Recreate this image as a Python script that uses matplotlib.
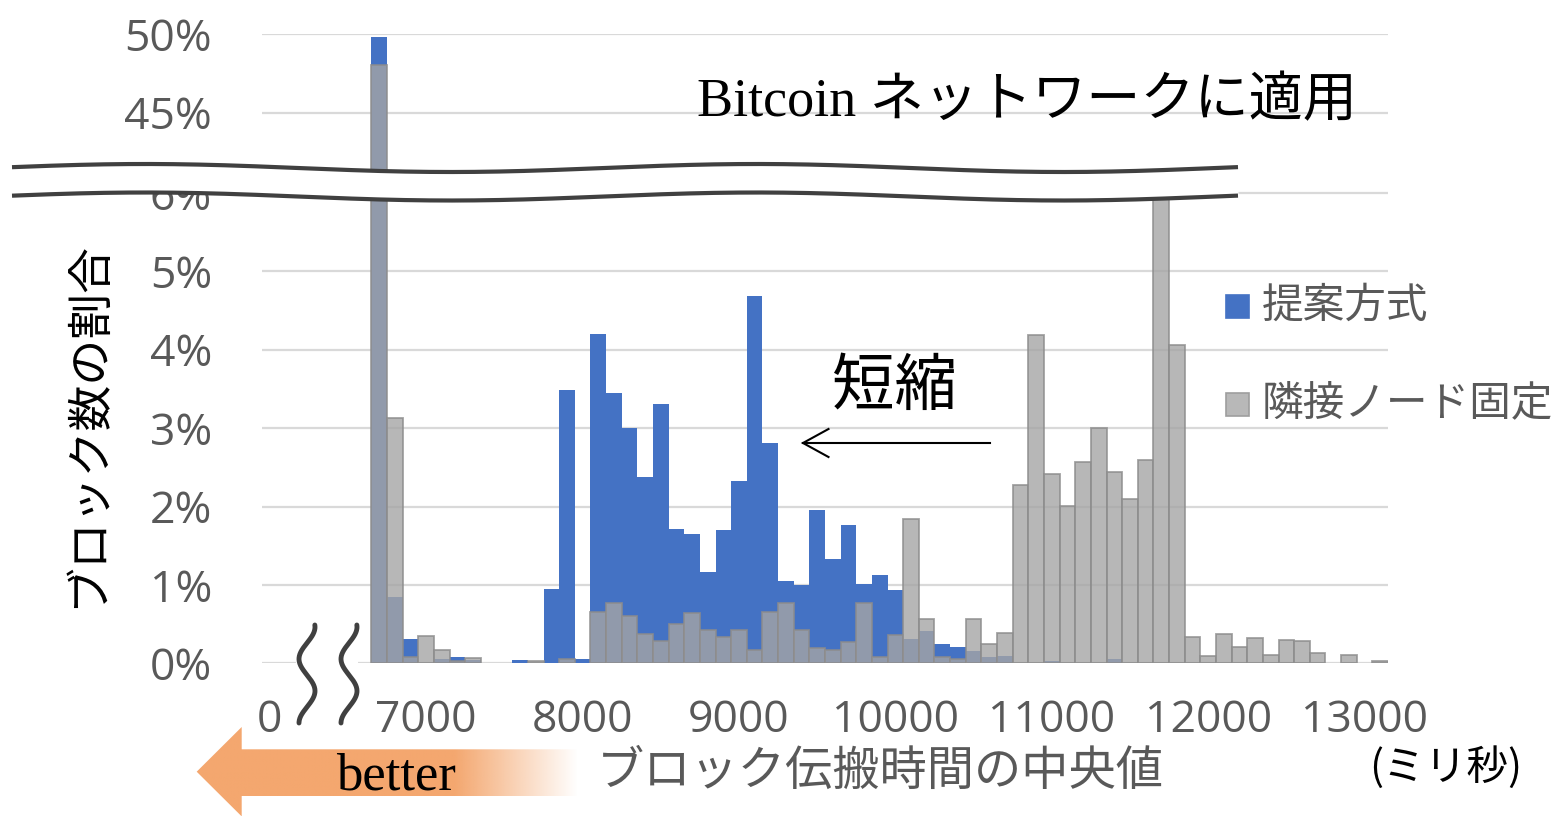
import numpy as np
import matplotlib
matplotlib.use("Agg")
import matplotlib.pyplot as plt
from matplotlib.patches import Polygon, Rectangle
from matplotlib.colors import to_rgb

# ---- data: share of blocks (%) per 100 ms bin of median propagation time ----
bin_centers_ms = list(range(6700, 13200, 100))
proposed = [
    49.83, 0.85, 0.31, 0.00, 0.06, 0.08, 0.04, 0.00, 0.00, 0.04,   # 6700-7600
    0.00, 0.95, 3.49, 0.06, 4.20, 3.45, 3.00, 2.38, 3.31, 1.71,    # 7700-8600
    1.65, 1.17, 1.70, 2.32, 4.68, 2.81, 1.05, 1.00, 1.96, 1.33,    # 8700-9600
    1.77, 1.01, 1.13, 0.93, 0.31, 0.41, 0.24, 0.21, 0.16, 0.08,    # 9700-10600
    0.09, 0.01, 0.01, 0.03, 0.01, 0.01, 0.01, 0.05, 0.01, 0.00,    # 10700-11600
    0.00, 0.00, 0.00, 0.00, 0.00, 0.00, 0.00, 0.00, 0.00, 0.00,    # 11700-12600
    0.00, 0.00, 0.00, 0.00, 0.00,                                  # 12700-13100
]
fixed_neighbors = [
    48.04, 3.13, 0.085, 0.35, 0.17, 0.03, 0.07, 0.00, 0.00, 0.00,  # 6700-7600
    0.025, 0.00, 0.05, 0.00, 0.65, 0.77, 0.60, 0.37, 0.29, 0.50,   # 7700-8600
    0.64, 0.42, 0.33, 0.43, 0.17, 0.66, 0.77, 0.42, 0.19, 0.17,    # 8700-9600
    0.27, 0.77, 0.085, 0.36, 1.84, 0.56, 0.085, 0.06, 0.56, 0.25,  # 9700-10600
    0.39, 2.28, 4.19, 2.42, 2.01, 2.57, 3.00, 2.44, 2.09, 2.59,    # 10700-11600
    7.00, 4.06, 0.33, 0.09, 0.38, 0.21, 0.32, 0.11, 0.30, 0.28,    # 11700-12600
    0.13, 0.00, 0.11, 0.00, 0.03,                                  # 12700-13100
]
series_names = ["提案方式", "隣接ノード固定"]
x_tick_values = [6000, 7000, 8000, 9000, 10000, 11000, 12000, 13000]
x_tick_labels = ["0", "7000", "8000", "9000", "10000", "11000", "12000", "13000"]
low_ticks = [0, 1, 2, 3, 4, 5, 6]
high_ticks = [45, 50]

BLUE = "#4472C4"
GREY = (0.647, 0.647, 0.647, 0.80)
GREY_EDGE = (0.55, 0.55, 0.55, 0.8)
TXT = "#595959"
NUM_FONT = ["Open Sans", "DejaVu Sans"]
JP_FONT = ["Noto Sans CJK JP", "DejaVu Sans"]
MIX_SERIF = ["Liberation Serif", "Noto Sans CJK JP", "DejaVu Sans"]

plt.rcParams["font.family"] = JP_FONT

W, H = 1558, 816
fig = plt.figure(figsize=(W / 100, H / 100), dpi=100)


def px_axes(x0, y0, x1, y1):
    """Axes placed with pixel edges (y measured from top)."""
    return fig.add_axes([x0 / W, (H - y1) / H, (x1 - x0) / W, (y1 - y0) / H])


# pixel layout of the broken y axis
LEFT, RIGHT = 262, 1388
BASE_Y, SPLIT_Y, TOP_Y = 663.3, 182.0, 34.3
PX_PER_PCT_LOW = 78.4
PX_PER_PCT_HIGH = 15.68

ax_low = px_axes(LEFT, SPLIT_Y, RIGHT, BASE_Y)
ax_high = px_axes(LEFT, TOP_Y, RIGHT, SPLIT_Y)

x = np.array(bin_centers_ms)
blue = np.array(proposed)
grey = np.array(fixed_neighbors)

for ax in (ax_low, ax_high):
    mb = blue > 0
    ax.bar(x[mb], blue[mb], width=100, color=BLUE, linewidth=0, zorder=2)
    mg = grey > 0
    ax.bar(x[mg], grey[mg], width=100, color=GREY, edgecolor=GREY_EDGE,
           linewidth=1.3, zorder=3)
    ax.set_xlim(5950, 13150)
    ax.set_axisbelow(True)
    ax.grid(axis="y", color="#D9D9D9", linewidth=1.6)
    ax.grid(axis="x", visible=False)
    for s in ax.spines.values():
        s.set_visible(False)
    ax.tick_params(length=0)
    ax.patch.set_alpha(0)

ax_low.set_ylim(0, (BASE_Y - SPLIT_Y) / PX_PER_PCT_LOW)
ax_high.set_ylim(50 - (SPLIT_Y - TOP_Y) / PX_PER_PCT_HIGH, 50)

ax_low.set_yticks(low_ticks)
ax_low.set_yticklabels([f"{t}%" for t in low_ticks])
ax_high.set_yticks(high_ticks)
ax_high.set_yticklabels([f"{t}%" for t in high_ticks])
for ax in (ax_low, ax_high):
    ax.tick_params(axis="y", pad=36)
    for lab in ax.get_yticklabels():
        lab.set_fontfamily(NUM_FONT)
        lab.set_fontsize(32)
        lab.set_color(TXT)

ax_high.set_xticks([])
ax_low.set_xticks(x_tick_values)
ax_low.set_xticklabels(x_tick_labels)
ax_low.tick_params(axis="x", pad=25)
for lab in ax_low.get_xticklabels():
    lab.set_fontfamily(NUM_FONT)
    lab.set_fontsize(32)
    lab.set_color(TXT)

# ---- overlay in pixel coordinates for the decorations ----
ov = fig.add_axes([0, 0, 1, 1], zorder=10)
ov.patch.set_alpha(0)

# wavy break band across the y axis
xs = np.linspace(12, 1238, 600)
y_top = 168 - 4.0 * np.cos(2 * np.pi * (xs - 145) / 612)
y_bot = y_top + 28.5
ov.fill_between(xs, y_top, y_bot, color="white", linewidth=0, zorder=1)
ov.plot(xs, y_top, color="#404040", linewidth=3.0, solid_capstyle="butt", zorder=2)
ov.plot(xs, y_bot, color="#404040", linewidth=3.0, solid_capstyle="butt", zorder=2)

# break marks on the x axis
ov.add_patch(Rectangle((296, 622), 62, 104, facecolor="white", edgecolor="none", zorder=1))
ys = np.linspace(625, 723, 200)
for xc in (307, 349):
    ov.plot(xc + 8 * np.cos(np.pi * (ys - 627) / 32), ys, color="#404040",
            linewidth=3.5, solid_capstyle="round", zorder=2)

# "better" arrow with a fading tail
arrow_pts = [(196.7, 771.7), (241.7, 727), (241.7, 749.3), (585, 749.3),
             (585, 796), (241.7, 796), (241.7, 816.4)]
arrow_shape = Polygon(arrow_pts, closed=True, facecolor="none", edgecolor="none")
ov.add_patch(arrow_shape)
gx = np.linspace(196, 585, 500)
grad = np.zeros((1, gx.size, 4))
grad[0, :, :3] = to_rgb("#F4A76F")
grad[0, :, 3] = np.clip((578 - gx) / (578 - 455), 0, 1)
im = ov.imshow(grad, extent=[196, 585, 817, 726], aspect="auto",
               interpolation="bilinear", zorder=3)
im.set_clip_path(arrow_shape)
ov.text(396, 789, "better", family=MIX_SERIF, fontsize=38, color="black",
        ha="center", va="baseline", zorder=4)

# "shortened" annotation with an open-headed arrow
ov.text(895, 387, "短縮", family=JP_FONT, fontsize=45, color="black",
        ha="center", va="center", zorder=4)
ov.plot([990, 803], [443, 443], color="black", linewidth=1.5, zorder=4)
ov.plot([828.5, 803, 828.5], [429, 443, 457], color="black", linewidth=1.5,
        solid_joinstyle="miter", zorder=4)

# title text
ov.text(697, 103, "Bitcoin ネットワークに適用", family=MIX_SERIF, fontsize=39,
        color="black", ha="left", va="center", zorder=4)

# legend
legend_colors = [(BLUE, BLUE), ((0.72, 0.72, 0.72), (0.62, 0.62, 0.62))]
for i, (name, (fc, ec)) in enumerate(zip(series_names, legend_colors)):
    yc = 306 + i * 98
    ov.add_patch(Rectangle((1226, yc - 11.5), 23, 23, facecolor=fc, edgecolor=ec,
                           linewidth=1.2, zorder=4))
    ov.text(1262, yc, name, family=JP_FONT, fontsize=30, color=TXT,
            ha="left", va="center", zorder=4)

# axis titles
ov.text(88, 425, "ブロック数の割合", family=JP_FONT, fontsize=33, color="black",
        rotation=90, ha="center", va="center", zorder=4)
ov.text(880, 772, "ブロック伝搬時間の中央値", family=JP_FONT, fontsize=34,
        color=TXT, ha="center", va="center", zorder=4)
ov.text(1446, 768, "(ミリ秒)", family=JP_FONT, fontsize=30, color="black",
        ha="center", va="center", zorder=4)

ov.set_xlim(0, W)
ov.set_ylim(H, 0)
ov.axis("off")

fig.savefig("out.png", dpi=100, facecolor="white")
